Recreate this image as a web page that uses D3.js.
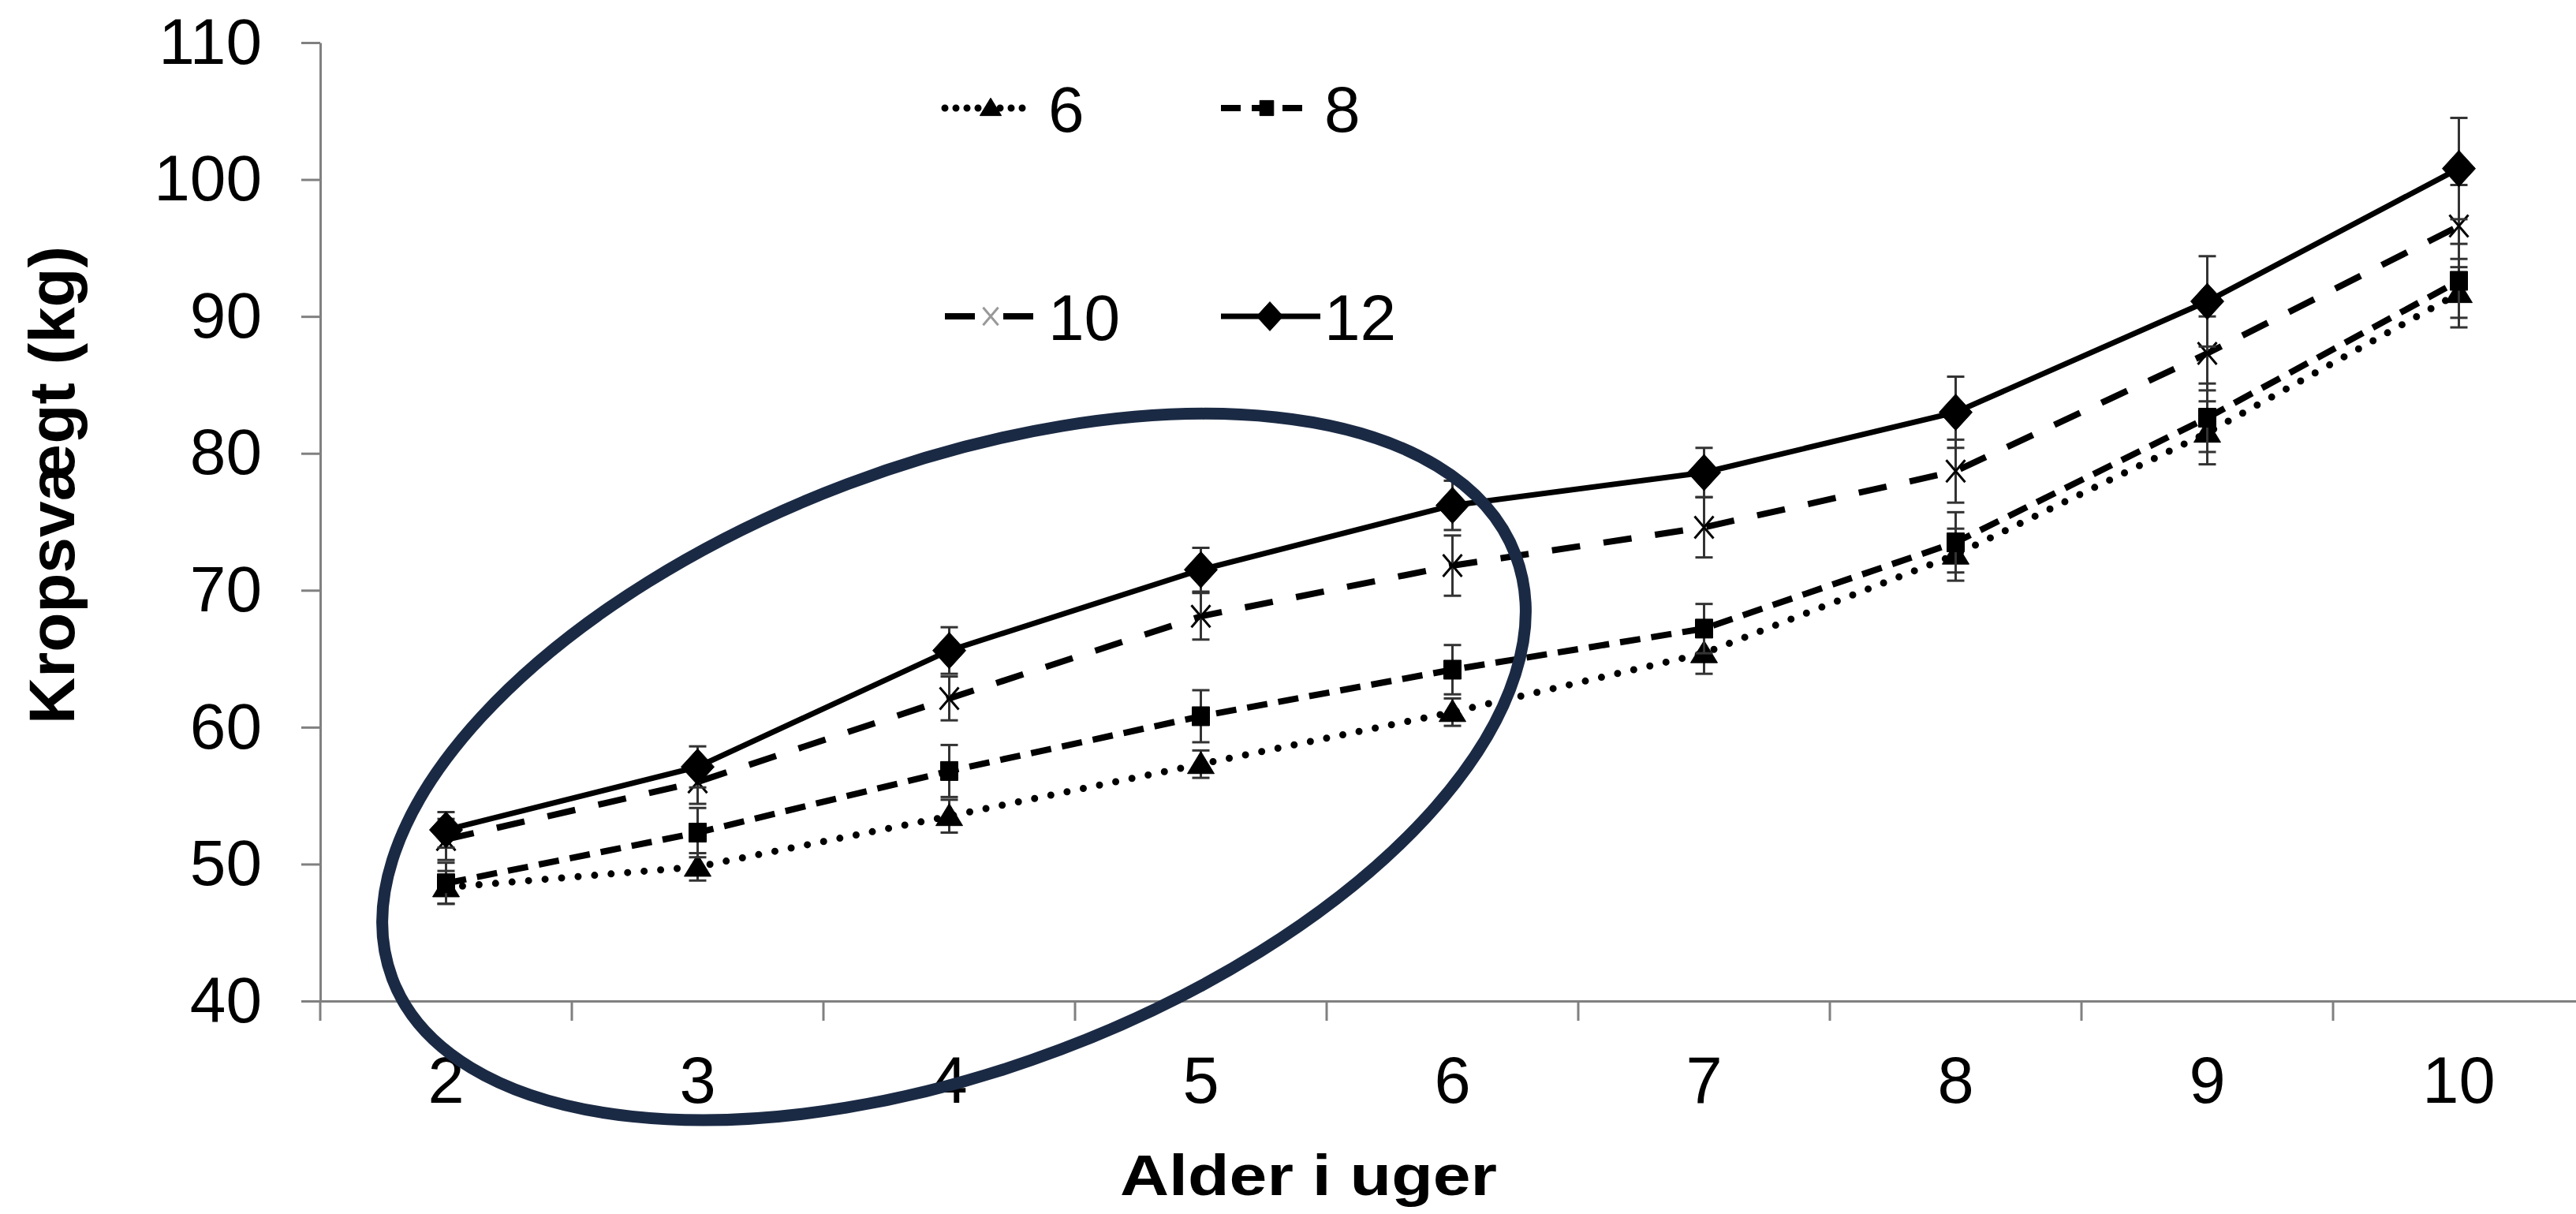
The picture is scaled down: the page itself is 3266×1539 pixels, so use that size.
<!DOCTYPE html>
<html>
<head>
<meta charset="utf-8">
<script src="https://cdn.jsdelivr.net/npm/d3@7"></script>
<style>
body { margin: 0; background: #fff; }
text { font-family: "Liberation Sans", Arial, sans-serif; fill: #000; }
</style>
</head>
<body>
<div id="chart"></div>
<script>
// age in weeks (x categories)
var weeks = [2, 3, 4, 5, 6, 7, 8, 9, 10];

// legend names of the four groups
var group_names = ["6", "8", "10", "12"];

// mean body weight (kg) per group
var weight_6  = [48.3, 49.8, 53.5, 57.3, 61.1, 65.4, 72.6, 81.5, 91.7];
var weight_8  = [48.6, 52.3, 56.8, 60.8, 64.2, 67.2, 73.5, 82.6, 92.6];
var weight_10 = [51.8, 56.0, 62.1, 68.1, 71.8, 74.6, 78.7, 87.3, 96.6];
var weight_12 = [52.5, 57.1, 65.6, 71.5, 76.2, 78.6, 83.0, 91.1, 100.8];

// error bar half-lengths (kg)
var err_6  = [1.2, 1.0, 1.2, 1.0, 1.0, 1.5, 1.9, 2.3, 2.5];
var err_8  = [1.5, 1.8, 1.9, 1.9, 1.8, 1.8, 2.2, 2.5, 2.7];
var err_10 = [1.5, 1.6, 1.6, 1.7, 2.2, 2.2, 2.3, 2.7, 3.0];
var err_12 = [1.3, 1.5, 1.7, 1.6, 1.8, 1.8, 2.6, 3.3, 3.7];

var y_ticks = [40, 50, 60, 70, 80, 90, 100, 110];

var width = 3266,
height = 1539;

var svg = d3.select("#chart")
.append("svg")
.attr("width", width)
.attr("height", height);

var xScale = d3.scaleBand()
.domain(weeks)
.range([406, 406 + 319 * weeks.length]);

var bw = xScale.bandwidth();

var yScale = d3.scaleLinear()
.domain([40, 110])
.range([1269, 54]);

// styles per group
var styles = {
	"6":  {shape: "triangle", dash: "0,21", legendDash: "0,14", legendLen: 112, width: 9, cap: "round"},
	"8":  {shape: "square", dash: "26,14", legendDash: "25,14", legendLen: 112, width: 8, cap: "butt"},
	"10": {shape: "cross", dash: "36,30", legendDash: "38,36,38", legendLen: 112, width: 8, cap: "butt"},
	"12": {shape: "diamond", dash: null, legendDash: null, legendLen: 126, width: 7, cap: "butt"}
};

var all_values = [weight_6, weight_8, weight_10, weight_12];
var all_errs = [err_6, err_8, err_10, err_12];

var groups = group_names.map(function(name, i) {
	return {
		name: name,
		style: styles[name],
		points: weeks.map(function(w, j) {
			return {week: w, value: all_values[i][j], err: all_errs[i][j]};
		})
	};
});

function markerPath(shape, k) {
	if (shape == "triangle") return "M0," + (-16*k) + "L" + (17*k) + "," + (12*k) + "L" + (-17*k) + "," + (12*k) + "Z";
	if (shape == "square") return "M" + (-11*k) + "," + (-12*k) + "h" + (22*k) + "v" + (24*k) + "h" + (-22*k) + "Z";
	if (shape == "diamond") return "M0," + (-23*k) + "L" + (21*k) + ",0L0," + (23*k) + "L" + (-21*k) + ",0Z";
	return "M" + (-12*k) + "," + (-14*k) + "L" + (12*k) + "," + (14*k) + "M" + (12*k) + "," + (-14*k) + "L" + (-12*k) + "," + (14*k);
}

//Axes
var yAxis = d3.axisLeft(yScale)
.tickValues(y_ticks)
.tickSize(24)
.tickSizeOuter(0)
.tickPadding(50);

var yAxis_g = svg.append("g")
.attr("transform", "translate(406,0)")
.call(yAxis);

yAxis_g.selectAll("text")
.attr("font-size", 82)
.attr("font-family", "Liberation Sans, Arial, sans-serif")
.attr("fill", "#000");

var xAxis = d3.axisBottom(xScale)
.tickSize(0)
.tickSizeOuter(0)
.tickPadding(70);

var xAxis_g = svg.append("g")
.attr("transform", "translate(0,1269)")
.call(xAxis);

xAxis_g.selectAll("text")
.attr("font-size", 83)
.attr("font-family", "Liberation Sans, Arial, sans-serif")
.attr("fill", "#000");

// category boundary ticks
xAxis_g.selectAll(".bound")
.data(weeks)
.enter()
.append("line")
.attr("class", "bound")
.attr("x1", function(d) { return xScale(d); })
.attr("x2", function(d) { return xScale(d); })
.attr("y1", 0)
.attr("y2", 25);

svg.selectAll(".domain, .tick line, .bound")
.attr("stroke", "#808080")
.attr("stroke-width", 3);

//Lines
var line = d3.line()
.x(function(d) { return xScale(d.week) + bw / 2; })
.y(function(d) { return yScale(d.value); });

var group_g = svg.selectAll(".group")
.data(groups)
.enter()
.append("g")
.attr("class", "group");

group_g.append("path")
.attr("d", function(d) { return line(d.points); })
.attr("fill", "none")
.attr("stroke", "#000")
.attr("stroke-width", function(d) { return d.style.width; })
.attr("stroke-dasharray", function(d) { return d.style.dash; })
.attr("stroke-linecap", function(d) { return d.style.cap; });

//Error bars
group_g.each(function(g) {
	var eb = d3.select(this).selectAll(".err")
	.data(g.points)
	.enter()
	.append("g")
	.attr("class", "err")
	.attr("stroke", "#333")
	.attr("stroke-width", 3);

	eb.append("line")
	.attr("x1", function(d) { return xScale(d.week) + bw / 2; })
	.attr("x2", function(d) { return xScale(d.week) + bw / 2; })
	.attr("y1", function(d) { return yScale(d.value + d.err); })
	.attr("y2", function(d) { return yScale(d.value - d.err); });

	[1, -1].forEach(function(s) {
		eb.append("line")
		.attr("x1", function(d) { return xScale(d.week) + bw / 2 - 11; })
		.attr("x2", function(d) { return xScale(d.week) + bw / 2 + 11; })
		.attr("y1", function(d) { return yScale(d.value + s * d.err); })
		.attr("y2", function(d) { return yScale(d.value + s * d.err); });
	});
});

//Markers
group_g.each(function(g) {
	d3.select(this).selectAll(".marker")
	.data(g.points)
	.enter()
	.append("path")
	.attr("class", "marker")
	.attr("transform", function(d) {
		return "translate(" + (xScale(d.week) + bw / 2) + "," + yScale(d.value) + ")";
	})
	.attr("d", markerPath(g.style.shape, 1))
	.attr("fill", g.style.shape == "cross" ? "none" : "#000")
	.attr("stroke", "#000")
	.attr("stroke-width", g.style.shape == "cross" ? 3 : 1);
});

//Legend
var legend_cols = [1198, 1548],
legend_rows = [137, 401];

var legend = svg.selectAll(".legend")
.data(groups)
.enter()
.append("g")
.attr("class", "legend")
.attr("transform", function(d, i) {
	return "translate(" + legend_cols[i % 2] + "," + legend_rows[Math.floor(i / 2)] + ")";
});

legend.append("line")
.attr("x1", 0)
.attr("x2", function(d) { return d.style.legendLen; })
.attr("stroke", "#000")
.attr("stroke-width", function(d) { return d.style.width; })
.attr("stroke-dasharray", function(d) { return d.style.legendDash; })
.attr("stroke-linecap", function(d) { return d.style.cap; });

legend.append("path")
.attr("transform", function(d) { return "translate(" + (d.style.shape == "diamond" ? 62 : 58) + ",0)"; })
.attr("d", function(d) { return markerPath(d.style.shape, 0.8); })
.attr("fill", function(d) { return d.style.shape == "cross" ? "none" : "#000"; })
.attr("stroke", function(d) { return d.style.shape == "cross" ? "#999" : "#000"; })
.attr("stroke-width", function(d) { return d.style.shape == "cross" ? 3 : 1; });

legend.append("text")
.attr("x", 131)
.attr("y", 30)
.attr("font-size", 82)
.text(function(d) { return d.name; });

//Axis titles
svg.append("text")
.attr("transform", "translate(94,615) rotate(-90)")
.attr("text-anchor", "middle")
.attr("font-size", 82)
.attr("font-weight", "bold")
.text("Kropsvægt (kg)");

svg.append("text")
.attr("x", 1420)
.attr("y", 1515)
.attr("font-size", 72)
.attr("font-weight", "bold")
.attr("textLength", 478)
.attr("lengthAdjust", "spacingAndGlyphs")
.text("Alder i uger");

//Highlight ellipse around weeks 2-6
var ell_cx = xScale(4) + bw / 2 + 6,
ell_cy = yScale(57.1);

svg.append("ellipse")
.attr("cx", 0)
.attr("cy", 0)
.attr("rx", 761)
.attr("ry", 383)
.attr("transform", "translate(" + ell_cx + "," + ell_cy + ") rotate(-20.65)")
.attr("fill", "none")
.attr("stroke", "#1b2a44")
.attr("stroke-width", 15);
</script>
</body>
</html>
